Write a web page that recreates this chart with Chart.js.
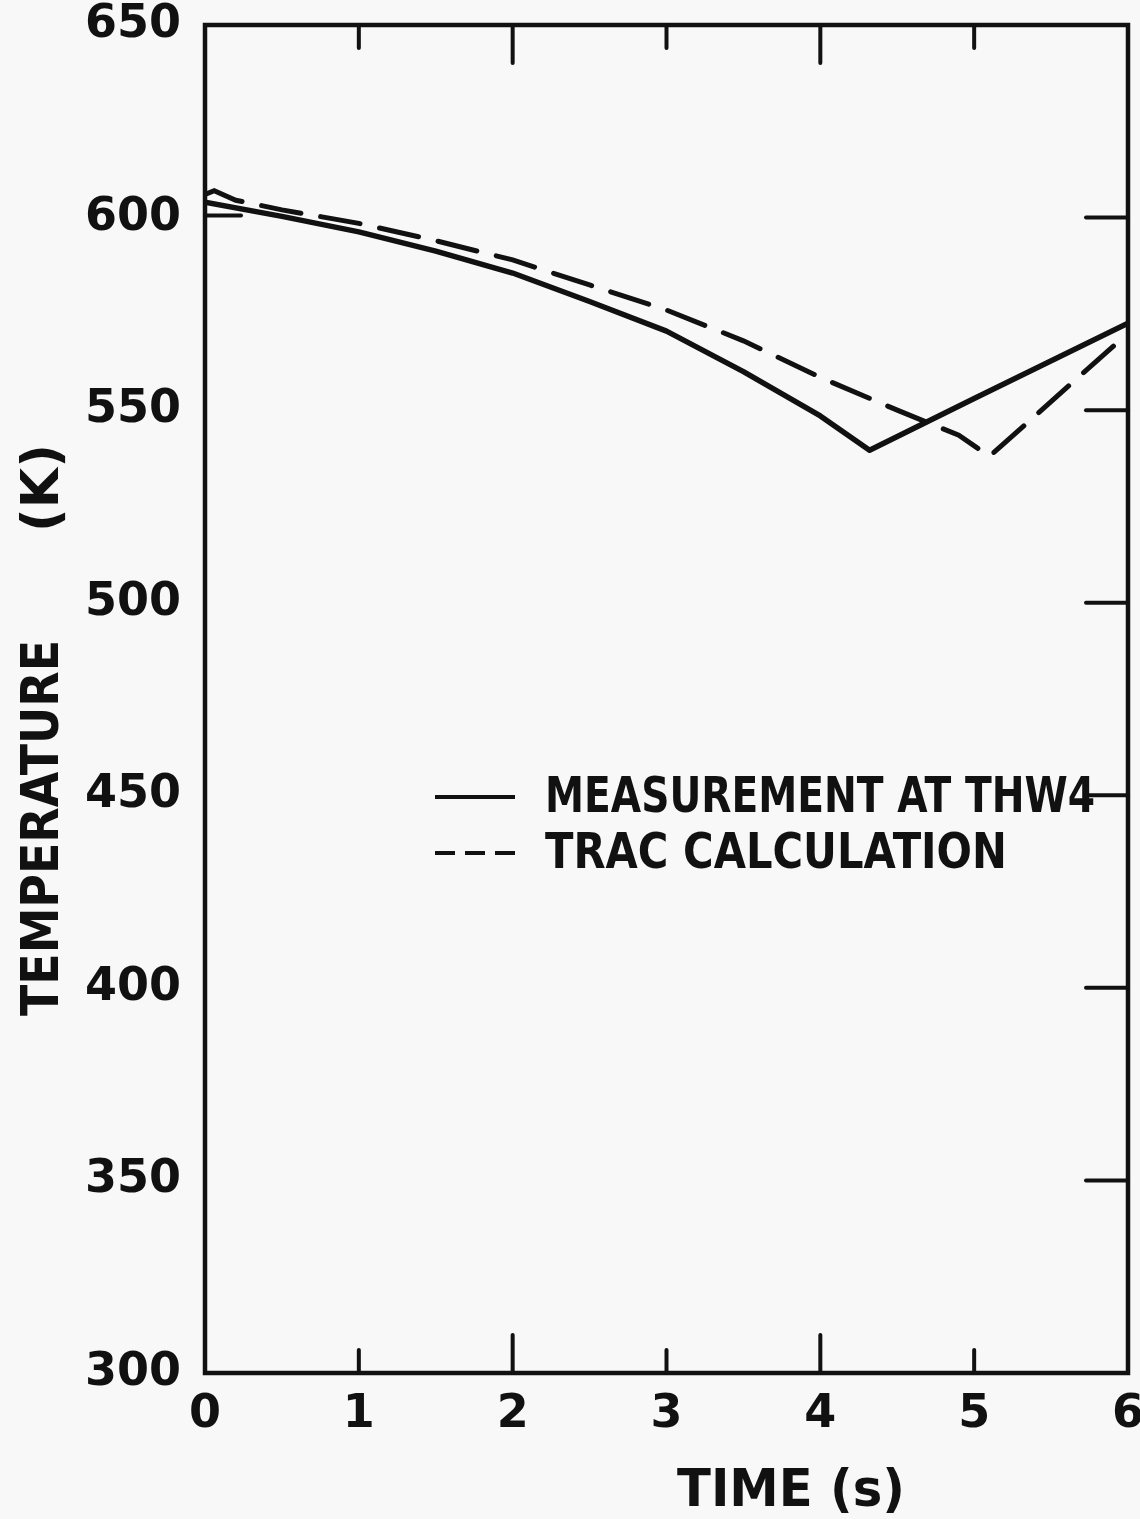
<!DOCTYPE html>
<html>
<head>
<meta charset="utf-8">
<script src="https://cdn.jsdelivr.net/npm/chart.js@4.4.1/dist/chart.umd.min.js"></script>
<style>
  html, body { margin: 0; padding: 0; background: #f8f8f8; }
  canvas { display: block; }
</style>
</head>
<body>
<canvas id="tempChart" width="1140" height="1519"></canvas>
<script>
"use strict";

// time (s) and temperature (K)
const measTime = [0, 0.5, 1, 1.5, 2, 2.5, 3, 3.5, 4, 4.32, 5, 6];
const measTemp = [604, 600.3, 596.3, 591.3, 585.6, 578.2, 570.5, 560, 548.5, 539.6, 553, 572.6];

const tracTime = [0, 0.06, 0.2, 0.5, 1, 1.5, 2, 2.5, 3, 3.5, 4, 4.5, 4.9, 5.1, 6];
const tracTemp = [606, 607, 604.5, 602, 598.5, 594, 589, 582.5, 576, 568, 558.5, 550, 543.5, 538, 570];

const timeTicks = [0, 1, 2, 3, 4, 5, 6];
const tempTicks = [300, 350, 400, 450, 500, 550, 600, 650];

const seriesLabels = ['MEASUREMENT AT THW4', 'TRAC CALCULATION'];

const ink = '#111';
const font = 'DejaVu Sans, Liberation Sans, sans-serif';

const toPoints = (xs, ys) => xs.map((x, i) => ({ x: x, y: ys[i] }));

// frame, inward ticks, in-plot legend and axis titles
const paperPlugin = {
    id: 'paper',
    beforeDraw(chart) {
        const c = chart.ctx;
        c.save();
        c.fillStyle = '#f8f8f8';
        c.fillRect(0, 0, chart.width, chart.height);
        c.restore();
    },
    afterDraw(chart) {
        const c = chart.ctx;
        const a = chart.chartArea;
        const xs = chart.scales.x;
        const ys = chart.scales.y;
        c.save();
        c.strokeStyle = ink;
        c.fillStyle = ink;
        c.lineCap = 'round';

        c.lineWidth = 4.5;
        c.strokeRect(a.left, a.top, a.right - a.left, a.bottom - a.top);

        c.lineWidth = 4;
        timeTicks.slice(1, -1).forEach(t => {
            const px = xs.getPixelForValue(t);
            const len = t % 2 === 0 ? 38 : 23;
            c.beginPath();
            c.moveTo(px, a.top); c.lineTo(px, a.top + len);
            c.moveTo(px, a.bottom); c.lineTo(px, a.bottom - len);
            c.stroke();
        });
        tempTicks.slice(1, -1).forEach(v => {
            const py = ys.getPixelForValue(v);
            c.beginPath();
            c.moveTo(a.right, py); c.lineTo(a.right - 42, py);
            c.stroke();
        });
        // short mark on the left at 600 K
        const p600 = ys.getPixelForValue(600);
        c.beginPath();
        c.moveTo(a.left, p600 - 2); c.lineTo(a.left + 36, p600 - 2);
        c.stroke();

        // legend
        c.textBaseline = 'middle';
        c.textAlign = 'left';
        c.font = 'bold 50px ' + font;
        const rows = [797, 853];
        chart.data.datasets.forEach((ds, i) => {
            c.lineWidth = 4;
            c.lineCap = 'butt';
            c.setLineDash(ds.borderDash ? [20, 10] : []);
            c.beginPath();
            c.moveTo(435, rows[i]); c.lineTo(515, rows[i]);
            c.stroke();
            c.setLineDash([]);
            c.fillText(ds.label, 545, rows[i] + 2, i === 0 ? 550 : 462);
        });

        // axis titles
        c.textAlign = 'center';
        c.font = 'bold 52px ' + font;
        c.fillText('TIME (s)', 791, 1492, 228);

        c.translate(44, 0);
        c.rotate(-Math.PI / 2);
        c.fillText('TEMPERATURE', -828, 0, 376);
        c.fillText('(K)', -488, 0, 92);
        c.restore();
    }
};

new Chart(document.getElementById('tempChart').getContext('2d'), {
    type: 'line',
    data: {
        datasets: [{
            label: seriesLabels[0],
            data: toPoints(measTime, measTemp),
            borderColor: ink,
            borderWidth: 5.5,
            pointRadius: 0,
            tension: 0,
            borderJoinStyle: 'round'
        }, {
            label: seriesLabels[1],
            data: toPoints(tracTime, tracTemp),
            borderColor: ink,
            borderWidth: 5,
            borderDash: [40, 20],
            borderCapStyle: 'round',
            pointRadius: 0,
            tension: 0
        }]
    },
    options: {
        responsive: false,
        animation: false,
        devicePixelRatio: 1,
        layout: { padding: { top: 25, right: 12, left: 0, bottom: 0 } },
        plugins: {
            legend: { display: false },
            tooltip: { enabled: false }
        },
        scales: {
            x: {
                type: 'linear',
                min: 0,
                max: 6,
                grid: { display: false, drawTicks: false },
                border: { display: false },
                afterBuildTicks: s => { s.ticks = timeTicks.map(v => ({ value: v })); },
                ticks: {
                    color: ink,
                    padding: 14,
                    font: { family: font, size: 46, weight: 'bold' },
                    maxRotation: 0
                },
                afterFit: s => { s.height = 146; s.paddingLeft = 0; s.paddingRight = 0; }
            },
            y: {
                min: 300,
                max: 650,
                grid: { display: false, drawTicks: false },
                border: { display: false },
                afterBuildTicks: s => { s.ticks = tempTicks.map(v => ({ value: v })); },
                ticks: {
                    color: ink,
                    padding: 24,
                    font: { family: font, size: 46, weight: 'bold' }
                },
                afterFit: s => { s.width = 205; s.paddingTop = 0; s.paddingBottom = 0; }
            }
        }
    },
    plugins: [paperPlugin]
});
</script>
</body>
</html>
